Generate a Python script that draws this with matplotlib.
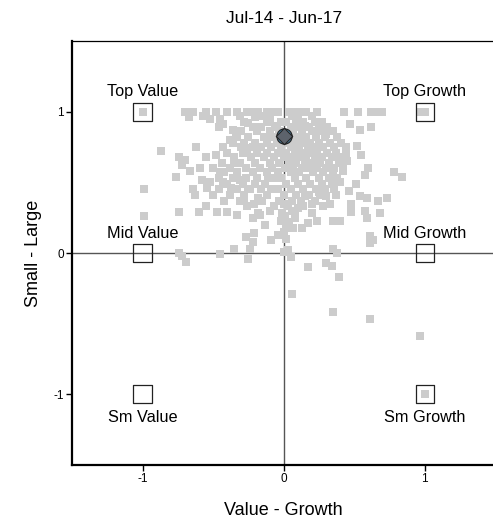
import matplotlib
matplotlib.use('Agg')
import matplotlib.pyplot as plt
import numpy as np

plt.rcParams['font.family'] = ['Liberation Sans', 'DejaVu Sans']
plt.rcParams['axes.unicode_minus'] = False

title = 'Jul-14 - Jun-17'
x_label = 'Value - Growth'
y_label = 'Small - Large'

# style boxes
box_x = [-1, 1, -1, 1, -1, 1]
box_y = [1, 1, 0, 0, -1, -1]
box_labels = ['Top Value', 'Top Growth', 'Mid Value', 'Mid Growth', 'Sm Value', 'Sm Growth']

# fund of interest
fund_x = [0.0]
fund_y = [0.83]

# peer group (rough)
peer_pts = [
    # capped at the top
    (-1.0, 1.0), (-0.70, 1.0), (-0.64, 1.0), (-0.55, 1.0), (-0.48, 1.0), (-0.40, 1.0),
    (-0.33, 1.0), (-0.26, 1.0), (-0.22, 1.0), (-0.18, 1.0), (-0.12, 1.0), (-0.08, 1.0),
    (-0.04, 1.0), (0.04, 1.0), (0.08, 1.0), (0.12, 1.0), (0.16, 1.0), (0.24, 1.0),
    (0.43, 1.0), (0.53, 1.0), (0.62, 1.0), (0.66, 1.0), (0.70, 1.0), (0.97, 1.0), (1.0, 1.0),
    (-0.67, 0.96), (-0.57, 0.97), (-0.45, 0.95), (-0.31, 0.97), (-0.20, 0.96), (-0.15, 0.97),
    (-0.10, 0.95), (0.06, 0.97), (0.10, 0.96), (0.20, 0.97),
    (-0.46, 0.89), (-0.43, 0.91), (-0.36, 0.87), (0.47, 0.91), (0.54, 0.87), (0.62, 0.89),
    (-0.25, 0.92), (-0.05, 0.90), (0.15, 0.90), (0.25, 0.88), (0.30, 0.84),
    # left lobe and outliers
    (-0.52, 0.95), (-0.62, 0.75), (-0.55, 0.68), (-0.70, 0.66), (-0.72, 0.62), (-0.66, 0.58),
    (-0.59, 0.60), (-0.48, 0.69), (-0.43, 0.75), (-0.38, 0.80), (-0.34, 0.82), (-0.29, 0.71),
    (-0.26, 0.74), (-0.87, 0.72), (-0.74, 0.68), (-0.76, 0.54), (-0.99, 0.45), (-0.99, 0.26),
    (-0.74, 0.29), (-0.74, 0.0), (-0.60, 0.29),
    (-0.64, 0.45), (-0.63, 0.41), (-0.55, 0.33), (-0.47, 0.29), (-0.40, 0.29), (-0.33, 0.27),
    (-0.22, 0.25), (-0.54, 0.46), (-0.52, 0.50), (-0.43, 0.50), (-0.37, 0.46), (-0.31, 0.52),
    (-0.25, 0.45), (-0.18, 0.39), (-0.16, 0.45), (-0.09, 0.45), (-0.06, 0.53), (-0.21, 0.35),
    (-0.10, 0.30), (-0.58, 0.52), (-0.50, 0.41), (-0.45, 0.57), (-0.35, 0.64), (-0.28, 0.38),
    # lower middle
    (-0.72, -0.02), (-0.69, -0.06), (-0.45, -0.01), (-0.27, 0.11), (-0.35, 0.03), (-0.24, 0.03),
    (-0.25, -0.04), (-0.21, 0.14), (-0.22, 0.08), (-0.09, 0.09), (0.0, 0.01), (0.03, 0.02),
    (0.05, -0.03), (0.02, 0.10), (0.02, 0.18), (0.07, 0.18), (0.13, 0.18), (0.17, 0.21),
    (0.24, 0.23), (0.35, 0.23), (0.40, 0.23), (0.48, 0.29), (0.59, 0.25), (0.68, 0.28),
    (0.61, 0.12), (0.61, 0.07), (0.63, 0.09), (0.35, 0.03), (0.38, 0.0), (0.17, -0.10),
    (0.30, -0.07), (0.34, -0.09), (0.39, -0.17), (0.06, -0.29), (0.35, -0.42), (0.61, -0.47),
    (0.97, -0.59), (1.0, -1.0), (0.0, 0.15), (-0.02, 0.23), (0.06, 0.30), (0.10, 0.32), (0.0, 0.35),
    (0.01, 0.26), (0.04, 0.22), (-0.04, 0.13), (0.08, 0.25), (-0.13, 0.20), (-0.17, 0.27),
    # right side
    (0.78, 0.57), (0.84, 0.54), (0.58, 0.55), (0.51, 0.49), (0.54, 0.40), (0.59, 0.39),
    (0.48, 0.35), (0.58, 0.30), (0.67, 0.37), (0.73, 0.39), (0.55, 0.69), (0.52, 0.76),
    (0.60, 0.60), (0.45, 0.65), (0.42, 0.58), (0.40, 0.50), (0.36, 0.45), (0.30, 0.40),
    (0.25, 0.43), (0.33, 0.35), (0.20, 0.35), (0.15, 0.40), (0.46, 0.44), (0.44, 0.71),
]

# dense core, row by row
core_rows = {
    0.93: [-0.28, -0.12, -0.02, 0.02, 0.09, 0.14, 0.22, 0.27],
    0.89: [-0.22, -0.16, -0.06, 0.05, 0.11, 0.18, 0.31],
    0.86: [-0.30, -0.19, -0.10, -0.03, 0.07, 0.13, 0.20, 0.26, 0.35],
    0.82: [-0.33, -0.25, -0.14, -0.08, 0.06, 0.10, 0.16, 0.23, 0.29, 0.38],
    0.78: [-0.36, -0.28, -0.20, -0.12, -0.05, 0.03, 0.08, 0.14, 0.19, 0.25, 0.33, 0.41],
    0.75: [-0.30, -0.22, -0.16, -0.09, -0.02, 0.05, 0.11, 0.17, 0.22, 0.28, 0.36, 0.44],
    0.71: [-0.40, -0.26, -0.19, -0.12, -0.04, 0.02, 0.08, 0.13, 0.19, 0.24, 0.31, 0.37],
    0.68: [-0.35, -0.23, -0.14, -0.07, 0.0, 0.06, 0.11, 0.16, 0.22, 0.27, 0.34, 0.40],
    0.64: [-0.44, -0.31, -0.20, -0.10, -0.03, 0.04, 0.09, 0.15, 0.20, 0.26, 0.32, 0.39],
    0.60: [-0.50, -0.38, -0.27, -0.17, -0.08, 0.01, 0.07, 0.13, 0.18, 0.24, 0.30, 0.36, 0.42],
    0.57: [-0.42, -0.33, -0.22, -0.12, -0.04, 0.05, 0.11, 0.21, 0.28, 0.35],
    0.53: [-0.46, -0.36, -0.27, -0.19, -0.11, -0.02, 0.08, 0.16, 0.25, 0.32, 0.38],
    0.49: [-0.40, -0.29, -0.20, -0.13, 0.02, 0.10, 0.19, 0.27, 0.34],
    0.45: [-0.46, -0.33, -0.24, -0.04, 0.05, 0.14, 0.23, 0.29],
    0.41: [-0.38, -0.28, -0.12, 0.0, 0.09, 0.18, 0.26, 0.37],
    0.37: [-0.42, -0.31, -0.15, -0.03, 0.06, 0.12, 0.22],
    0.33: [-0.26, -0.07, 0.03, 0.14, 0.28],
    0.28: [-0.18, -0.01, 0.08, 0.20],
}

peer_x = [p[0] for p in peer_pts]
peer_y = [p[1] for p in peer_pts]
for yy, xs in core_rows.items():
    for xx in xs:
        peer_x.append(xx)
        peer_y.append(yy)

fig = plt.figure(figsize=(4.93, 5.22), dpi=100)
ax = fig.add_axes([0.146, 0.109, 0.8586, 0.8125])

ax.axhline(0, color='#555555', lw=1, zorder=1)
ax.axvline(0, color='#555555', lw=1, zorder=1)

ax.scatter(peer_x, peer_y, marker='s', s=34, color='#CCCCCC', linewidths=0, zorder=2)

ax.scatter(box_x, box_y, marker='s', s=170, facecolors='none', edgecolors='#222222',
           linewidths=0.9, zorder=3)
for bx, by, lab in zip(box_x, box_y, box_labels):
    if by < 0:
        ax.annotate(lab, (bx, by), xytext=(0, -11), textcoords='offset points',
                    ha='center', va='top', fontsize=11.7)
    else:
        ax.annotate(lab, (bx, by), xytext=(0, 9), textcoords='offset points',
                    ha='center', va='bottom', fontsize=11.7)

# fund marker: diamond in a circle
ax.scatter(fund_x, fund_y, marker='o', s=120, facecolor='#5aa6d8', edgecolor='#222222',
           linewidths=0.9, zorder=4)
ax.scatter(fund_x, fund_y, marker='D', s=70, facecolor='#5d636c', edgecolor='#222222',
           linewidths=0.8, zorder=5)

ax.set_xlim(-1.5, 1.5)
ax.set_ylim(-1.5, 1.5)
ax.set_xticks([-1, 0, 1])
ax.set_yticks([-1, 0, 1])
ax.tick_params(length=4, width=1, labelsize=8.5, pad=2)

ax.spines['right'].set_visible(False)
ax.spines['left'].set_linewidth(1.6)
ax.spines['bottom'].set_linewidth(1.6)
ax.spines['top'].set_linewidth(0.9)

ax.set_title(title, fontsize=12.5, pad=13)
ax.set_xlabel(x_label, fontsize=13, labelpad=12)
ax.set_ylabel(y_label, fontsize=13, labelpad=8)

plt.savefig('out.png', dpi=100)
plt.close()
